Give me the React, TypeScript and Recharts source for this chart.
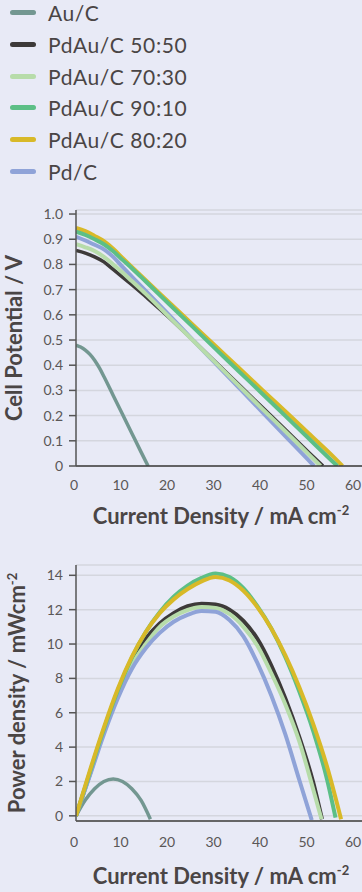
import React from 'react';
import { LineChart, Line, XAxis, YAxis, CartesianGrid, Label } from 'recharts';

const BG = '#e8eaf6';
const TEXT = '#4a4545';
const FONT = 'Lato, "Open Sans", sans-serif';

const SERIES = [
  { key: 'au', name: 'Au/C', color: '#739791' },
  { key: 'pa50', name: 'PdAu/C 50:50', color: '#3d3a39' },
  { key: 'pa70', name: 'PdAu/C 70:30', color: '#b7dcaa' },
  { key: 'pa90', name: 'PdAu/C 90:10', color: '#5cbf86' },
  { key: 'pa80', name: 'PdAu/C 80:20', color: '#d8b928' },
  { key: 'pd', name: 'Pd/C', color: '#8fa3d8' },
];

const X_TICKS = [0, 10, 20, 30, 40, 50, 60];
const V_TICKS = [0, 0.1, 0.2, 0.3, 0.4, 0.5, 0.6, 0.7, 0.8, 0.9, 1.0];
const P_TICKS = [0, 2, 4, 6, 8, 10, 12, 14];

// cell potential (V) vs current density (mA cm-2)
const AU_V = [[0, 0.48], [1, 0.472], [2, 0.46], [3, 0.443], [4, 0.42], [5, 0.39], [6, 0.355], [8, 0.28], [10, 0.205], [12, 0.13], [14, 0.055], [15.5, 0]];
const PA50_V = [[0, 0.855], [2, 0.845], [4, 0.83], [6, 0.81], [8, 0.78], [10, 0.75], [12, 0.72], [15, 0.672], [20, 0.59], [25, 0.502], [30, 0.413], [35, 0.323], [40, 0.234], [45, 0.145], [50, 0.055], [53.1, 0]];
const PA70_V = [[0, 0.88], [2, 0.868], [4, 0.853], [6, 0.83], [8, 0.8], [10, 0.768], [12, 0.734], [15, 0.683], [20, 0.592], [25, 0.501], [30, 0.41], [35, 0.319], [40, 0.228], [45, 0.138], [50, 0.047], [52.6, 0]];
const PA90_V = [[0, 0.93], [2, 0.917], [4, 0.9], [6, 0.88], [8, 0.852], [10, 0.818], [12, 0.785], [15, 0.732], [20, 0.643], [25, 0.554], [30, 0.465], [35, 0.376], [40, 0.288], [45, 0.199], [50, 0.11], [55, 0.021], [56.2, 0]];
const PA80_V = [[0, 0.945], [2, 0.932], [4, 0.913], [6, 0.892], [8, 0.862], [10, 0.826], [12, 0.79], [15, 0.737], [20, 0.65], [25, 0.563], [30, 0.476], [35, 0.39], [40, 0.303], [45, 0.217], [50, 0.13], [55, 0.043], [57.3, 0]];
const PD_V = [[0, 0.91], [2, 0.895], [4, 0.878], [6, 0.86], [8, 0.83], [10, 0.79], [12, 0.752], [15, 0.695], [20, 0.6], [25, 0.503], [30, 0.407], [35, 0.311], [40, 0.215], [45, 0.119], [50, 0.023], [51.2, 0]];

// power density (mW cm-2) vs current density
const AU_P = [[0, 0], [2, 0.92], [4, 1.58], [6, 2.0], [8, 2.15], [10, 2.0], [12, 1.58], [14, 0.9], [16, -0.2]];
const PA50_P = [[0, 0], [3, 2.45], [6, 4.95], [9, 7.15], [12, 9.0], [15, 10.3], [18, 11.2], [21, 11.8], [24, 12.2], [27, 12.35], [30, 12.3], [33, 12.0], [36, 11.35], [39, 10.3], [42, 8.75], [45, 6.85], [48, 4.6], [51, 1.95], [52.9, -0.2]];
const PA70_P = [[0, 0], [3, 2.45], [6, 4.9], [9, 7.05], [12, 8.8], [15, 10.0], [18, 11.0], [21, 11.6], [24, 11.98], [27, 12.15], [30, 12.1], [33, 11.75], [36, 11.0], [39, 9.9], [42, 8.3], [45, 6.5], [48, 4.35], [51, 1.55], [52.8, -0.2]];
const PA90_P = [[0, 0], [3, 2.55], [6, 5.05], [9, 7.3], [12, 9.2], [15, 10.7], [18, 11.85], [21, 12.75], [24, 13.4], [27, 13.85], [30, 14.1], [33, 13.9], [36, 13.25], [39, 12.2], [42, 10.9], [45, 9.25], [48, 7.25], [51, 4.95], [54, 2.1], [55.8, -0.1]];
const PA80_P = [[0, 0], [3, 2.65], [6, 5.15], [9, 7.4], [12, 9.25], [15, 10.7], [18, 11.8], [21, 12.6], [24, 13.2], [27, 13.65], [30, 13.9], [33, 13.7], [36, 13.1], [39, 12.15], [42, 10.9], [45, 9.35], [48, 7.5], [51, 5.35], [54, 2.85], [57, -0.2]];
const PD_P = [[0, 0], [3, 2.35], [6, 4.75], [9, 6.85], [12, 8.55], [15, 9.75], [18, 10.65], [21, 11.3], [24, 11.7], [27, 11.92], [30, 11.88], [33, 11.4], [36, 10.45], [39, 8.9], [42, 7.0], [45, 4.75], [48, 2.1], [50.7, -0.25]];

const toPts = (arr: number[][]) => arr.map(([j, y]) => ({ j, y }));

const color = (key: string) => SERIES.find((s) => s.key === key)!.color;

const tickStyle = { fill: '#5a5757', fontSize: 14, fontFamily: FONT };

const XTitle = (props: any) => {
  const { x, y, width } = props.viewBox;
  return (
    <text x={x + width / 2 + 2} y={y + props.dyBase} textAnchor="middle" fill={TEXT}
      fontFamily={FONT} fontWeight={700} fontSize={22}>
      Current Density / mA cm<tspan dy={-9} fontSize={13}>-2</tspan>
    </text>
  );
};

const YTitle = (props: any) => {
  const { y, height } = props.viewBox;
  const cx = props.cx;
  const cy = y + height / 2;
  return (
    <text x={cx} y={cy} transform={`rotate(-90, ${cx}, ${cy})`} textAnchor="middle" fill={TEXT}
      fontFamily={FONT} fontWeight={700} fontSize={22}>
      {props.children}
    </text>
  );
};

const Legend = () => (
  <div style={{ position: 'absolute', top: -3, left: 10, fontFamily: FONT }}>
    {SERIES.map((s) => (
      <div key={s.key} style={{ height: 31.7, display: 'flex', alignItems: 'center' }}>
        <div style={{ width: 26, height: 5, borderRadius: 3, background: s.color }} />
        <span style={{ marginLeft: 12, fontSize: 21, color: TEXT, letterSpacing: 0.6 }}>{s.name}</span>
      </div>
    ))}
  </div>
);

const TOP_LINES = [
  { key: 'au', data: AU_V, w: 3.5 },
  { key: 'pa50', data: PA50_V, w: 3.5 },
  { key: 'pd', data: PD_V, w: 4 },
  { key: 'pa70', data: PA70_V, w: 4 },
  { key: 'pa80', data: PA80_V, w: 4 },
  { key: 'pa90', data: PA90_V, w: 4 },
];

const BOTTOM_LINES = [
  { key: 'au', data: AU_P, w: 3.5 },
  { key: 'pa50', data: PA50_P, w: 4 },
  { key: 'pa70', data: PA70_P, w: 4 },
  { key: 'pd', data: PD_P, w: 4 },
  { key: 'pa90', data: PA90_P, w: 4 },
  { key: 'pa80', data: PA80_P, w: 4 },
];

export default function App() {
  return (
    <div style={{ position: 'absolute', top: 0, left: 0, width: 362, height: 892, background: BG, overflow: 'hidden' }}>
      <Legend />

      <div style={{ position: 'absolute', top: 190, left: 0 }}>
        <LineChart width={362} height={345} margin={{ top: 20, right: 0, bottom: 0, left: 0 }}>
          <CartesianGrid vertical={false} stroke="#d4d6de" strokeWidth={1.5} />
          <XAxis type="number" dataKey="j" domain={[0, 61.5]} ticks={X_TICKS} allowDataOverflow
            height={69} tickLine={false} tickSize={0} tickMargin={14} tick={{ ...tickStyle, dx: -2 }}
            axisLine={{ stroke: '#3a3a3a', strokeWidth: 1.5 }}>
            <Label content={(p: any) => <XTitle {...p} dyBase={58} />} />
          </XAxis>
          <YAxis type="number" dataKey="y" domain={[0, 1.016]} ticks={V_TICKS} allowDataOverflow
            width={76} tickSize={7} tickMargin={6} tick={tickStyle}
            tickFormatter={(v: number) => (v === 0 ? '0' : v.toFixed(1))}
            tickLine={{ stroke: '#555', strokeWidth: 1.5 }}
            axisLine={{ stroke: '#555', strokeWidth: 1.5 }}>
            <Label content={(p: any) => <YTitle {...p} cx={22}>Cell Potential / V</YTitle>} />
          </YAxis>
          {TOP_LINES.map((l) => (
            <Line key={l.key} data={toPts(l.data)} dataKey="y" type="monotone" stroke={color(l.key)}
              strokeWidth={l.w} dot={false} isAnimationActive={false} />
          ))}
        </LineChart>
      </div>

      <div style={{ position: 'absolute', top: 545, left: 0 }}>
        <LineChart width={362} height={347} margin={{ top: 20, right: 0, bottom: 0, left: 0 }}>
          <CartesianGrid vertical={false} stroke="#d4d6de" strokeWidth={1.5} />
          <XAxis type="number" dataKey="j" domain={[0, 61.5]} ticks={X_TICKS} allowDataOverflow
            height={71} tickLine={false} tickSize={0} tickMargin={16} tick={{ ...tickStyle, dx: -2 }}
            axisLine={{ stroke: '#666', strokeWidth: 2 }}>
            <Label content={(p: any) => <XTitle {...p} dyBase={63} />} />
          </XAxis>
          <YAxis type="number" dataKey="y" domain={[-0.3, 14.6]} ticks={P_TICKS} allowDataOverflow
            width={76} tickSize={7} tickMargin={6} tick={tickStyle}
            tickLine={{ stroke: '#555', strokeWidth: 1.5 }}
            axisLine={{ stroke: '#555', strokeWidth: 1.5 }}>
            <Label content={(p: any) => (
              <YTitle {...p} cx={25}>Power density / mWcm<tspan dy={-8} fontSize={13}>-2</tspan></YTitle>
            )} />
          </YAxis>
          {BOTTOM_LINES.map((l) => (
            <Line key={l.key} data={toPts(l.data)} dataKey="y" type="monotone" stroke={color(l.key)}
              strokeWidth={l.w} dot={false} isAnimationActive={false} />
          ))}
        </LineChart>
      </div>
    </div>
  );
}
